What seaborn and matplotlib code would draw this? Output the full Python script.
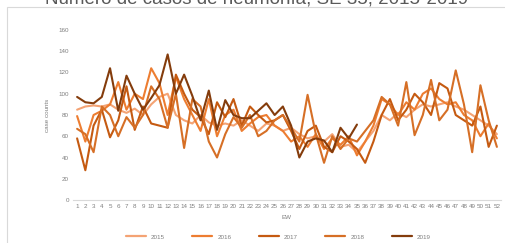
import numpy as np
import pandas as pd
import matplotlib
matplotlib.use("Agg")
import matplotlib.pyplot as plt
import seaborn as sns
from matplotlib.patches import Rectangle

# Data
weeks = list(range(1, 53))
c2015 = [85, 88, 89, 88, 90, 85, 82, 86, 80, 90, 97, 100, 80, 75, 72, 80, 73, 70, 72, 70,
         75, 70, 65, 72, 70, 65, 68, 62, 58, 60, 55, 62, 50, 52, 45, 55, 65, 80, 75, 82,
         78, 85, 90, 88, 90, 92, 88, 85, 80, 75, 70, 62]
c2016 = [79, 55, 80, 84, 90, 111, 85, 100, 95, 124, 110, 80, 116, 95, 80, 65, 95, 60, 80, 85,
         65, 72, 78, 80, 70, 65, 55, 60, 50, 62, 48, 58, 52, 60, 42, 55, 70, 95, 90, 80,
         92, 85, 100, 105, 95, 90, 92, 80, 75, 60, 72, 58]
c2017 = [58, 28, 70, 85, 59, 75, 107, 66, 88, 72, 70, 68, 118, 100, 85, 78, 62, 92, 78, 95,
         70, 88, 80, 73, 75, 80, 65, 48, 65, 70, 50, 45, 60, 55, 48, 35, 55, 80, 95, 75,
         85, 100, 92, 80, 110, 105, 80, 75, 70, 88, 50, 70]
c2018 = [67, 62, 45, 88, 80, 60, 78, 68, 80, 107, 95, 68, 100, 49, 95, 88, 55, 40, 62, 78,
         68, 80, 60, 65, 75, 80, 68, 55, 99, 62, 35, 60, 48, 58, 55, 65, 75, 97, 90, 70,
         111, 61, 80, 113, 75, 85, 122, 90, 45, 108, 75, 50]
c2019 = [97, 92, 91, 97, 124, 84, 117, 100, 85, 96, 108, 137, 100, 118, 98, 75, 103, 66, 94, 80,
         77, 77, 84, 91, 80, 88, 70, 40, 55, 58, 56, 45, 68, 58, 71]

years = ["2015", "2016", "2017", "2018", "2019"]
series = [c2015, c2016, c2017, c2018, c2019]
colors = ["#F4A374", "#ED7D31", "#C55A11", "#D66F26", "#843C0C"]

rows = []
for yr, vals in zip(years, series):
    for w, v in zip(weeks, vals):
        rows.append({"EW": w, "count": v, "year": yr})
df = pd.DataFrame(rows)

sns.set_style("white")
plt.rcParams["font.family"] = ["Liberation Sans", "DejaVu Sans"]

fig = plt.figure(figsize=(5.06, 2.43), dpi=100)
ax = fig.add_axes([73 / 506, 1 - 200 / 243, 428 / 506, 170 / 243])

sns.lineplot(data=df, x="EW", y="count", hue="year", palette=colors,
             linewidth=1.5, ax=ax, legend=False)

ax.set_xlim(0.5, 52.5)
ax.set_ylim(0, 160)
ax.set_yticks(range(0, 161, 20))
ax.set_xticks(weeks)
ax.set_xticklabels([str(w) for w in weeks])
ax.tick_params(axis="both", labelsize=4.5, colors="#7f7f7f", length=0, pad=3)
for sp in ["top", "right", "left"]:
    ax.spines[sp].set_visible(False)
ax.spines["bottom"].set_color("#d9d9d9")
ax.set_xlabel("EW", fontsize=4.5, color="#7f7f7f", labelpad=4)
ax.set_ylabel("case counts", fontsize=4.5, color="#7f7f7f", labelpad=6)

handles = [plt.Line2D([], [], color=c, lw=1.6) for c in colors]
fig.legend(handles, years, loc="center", bbox_to_anchor=(0.55, 0.025), ncol=5,
           frameon=False, fontsize=4.5, handlelength=3.2, columnspacing=4.4,
           labelcolor="#7f7f7f")

# outer chart frame; the title sits above it and is partly cut, as in the picture
fig.patches.append(Rectangle((7 / 506, -0.2), 1.2, 1.2 - 7 / 243,
                             transform=fig.transFigure, fill=False,
                             edgecolor="#d9d9d9", lw=0.8))
fig.text(0.508, 1 - 3.5 / 243, "Número de casos de neumonía, SE 35, 2015-2019",
         ha="center", va="baseline", fontsize=13.5, color="#595959")

fig.savefig("out.png", dpi=100)
